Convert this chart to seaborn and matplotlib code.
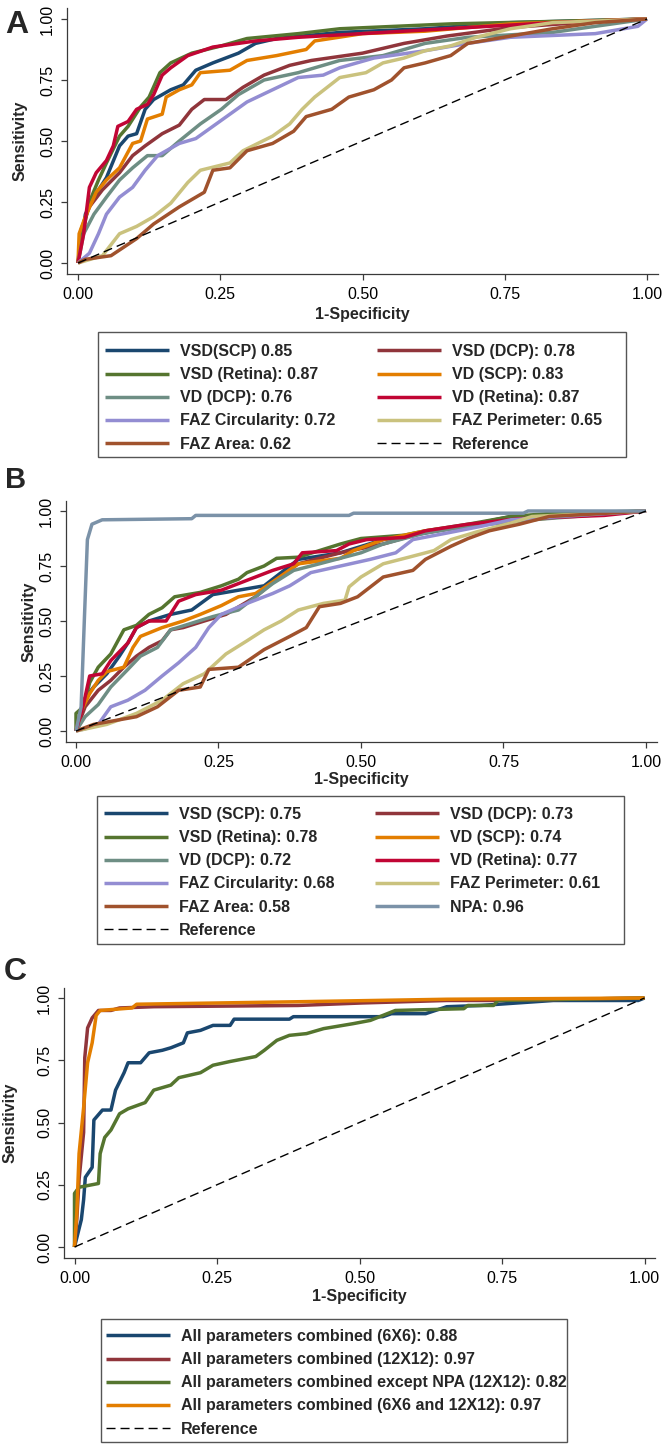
import matplotlib
matplotlib.use("Agg")
import matplotlib.pyplot as plt
import seaborn as sns
from matplotlib.lines import Line2D
from matplotlib.patches import Rectangle

# ---------------- data ----------------
TICKS = [0.0, 0.25, 0.50, 0.75, 1.0]
TICK_LABELS = ["0.00", "0.25", "0.50", "0.75", "1.00"]
REF = [0.0, 1.0]

# Panel A
A_vsd_scp_x = [0, 0.013, 0.028, 0.05, 0.073, 0.088, 0.103, 0.118, 0.133, 0.163, 0.185, 0.207, 0.237, 0.282, 0.312, 0.349, 0.46, 0.61, 0.76, 1.0]
A_vsd_scp_y = [0, 0.20, 0.27, 0.35, 0.48, 0.52, 0.53, 0.63, 0.67, 0.71, 0.73, 0.79, 0.82, 0.86, 0.90, 0.92, 0.945, 0.96, 0.985, 1.0]
A_vsd_dcp_x = [0, 0.006, 0.02, 0.043, 0.073, 0.096, 0.118, 0.148, 0.178, 0.2, 0.222, 0.26, 0.29, 0.327, 0.372, 0.41, 0.5, 0.573, 0.648, 0.76, 0.909, 1.0]
A_vsd_dcp_y = [0, 0.14, 0.23, 0.30, 0.37, 0.44, 0.48, 0.53, 0.565, 0.63, 0.67, 0.67, 0.72, 0.77, 0.81, 0.83, 0.86, 0.90, 0.93, 0.965, 0.99, 1.0]
A_vsd_ret_x = [0, 0.006, 0.02, 0.036, 0.05, 0.073, 0.088, 0.11, 0.125, 0.144, 0.163, 0.2, 0.252, 0.297, 0.387, 0.46, 0.655, 0.834, 1.0]
A_vsd_ret_y = [0, 0.10, 0.25, 0.34, 0.41, 0.52, 0.56, 0.64, 0.68, 0.78, 0.82, 0.86, 0.89, 0.92, 0.94, 0.96, 0.98, 0.99, 1.0]
A_vd_scp_x = [0, 0.002, 0.013, 0.032, 0.05, 0.073, 0.096, 0.11, 0.122, 0.148, 0.155, 0.178, 0.2, 0.215, 0.267, 0.297, 0.349, 0.401, 0.416, 0.5, 0.61, 0.76, 1.0]
A_vd_scp_y = [0, 0.12, 0.19, 0.29, 0.34, 0.39, 0.49, 0.50, 0.59, 0.61, 0.68, 0.71, 0.73, 0.78, 0.79, 0.83, 0.85, 0.875, 0.91, 0.94, 0.95, 0.98, 1.0]
A_vd_dcp_x = [0, 0.01, 0.028, 0.05, 0.073, 0.096, 0.122, 0.148, 0.178, 0.215, 0.252, 0.282, 0.327, 0.387, 0.46, 0.536, 0.61, 0.685, 0.834, 0.909, 1.0]
A_vd_dcp_y = [0, 0.12, 0.20, 0.27, 0.34, 0.39, 0.44, 0.44, 0.50, 0.57, 0.63, 0.69, 0.75, 0.78, 0.83, 0.85, 0.90, 0.925, 0.945, 0.97, 1.0]
A_vd_ret_x = [0, 0.01, 0.02, 0.032, 0.05, 0.062, 0.07, 0.088, 0.103, 0.122, 0.133, 0.148, 0.163, 0.193, 0.237, 0.312, 0.387, 0.536, 0.685, 0.834, 1.0]
A_vd_ret_y = [0, 0.12, 0.31, 0.37, 0.42, 0.48, 0.56, 0.58, 0.63, 0.65, 0.69, 0.77, 0.80, 0.85, 0.885, 0.91, 0.925, 0.945, 0.965, 0.985, 1.0]
A_faz_circ_x = [0, 0.02, 0.036, 0.05, 0.073, 0.096, 0.118, 0.14, 0.178, 0.207, 0.237, 0.267, 0.297, 0.342, 0.387, 0.431, 0.46, 0.52, 0.61, 0.685, 0.76, 0.909, 0.984, 1.0]
A_faz_circ_y = [0, 0.04, 0.12, 0.20, 0.27, 0.31, 0.38, 0.44, 0.49, 0.51, 0.56, 0.61, 0.66, 0.71, 0.76, 0.77, 0.80, 0.84, 0.87, 0.90, 0.925, 0.94, 0.97, 1.0]
A_faz_per_x = [0, 0.043, 0.073, 0.103, 0.133, 0.163, 0.193, 0.215, 0.267, 0.29, 0.342, 0.372, 0.394, 0.416, 0.46, 0.506, 0.536, 0.573, 0.61, 0.655, 0.7, 0.76, 0.834, 1.0]
A_faz_per_y = [0, 0.03, 0.12, 0.15, 0.19, 0.245, 0.33, 0.38, 0.41, 0.46, 0.52, 0.57, 0.63, 0.68, 0.76, 0.78, 0.82, 0.84, 0.87, 0.89, 0.925, 0.96, 0.985, 1.0]
A_faz_area_x = [0, 0.013, 0.058, 0.103, 0.133, 0.178, 0.222, 0.237, 0.267, 0.297, 0.342, 0.379, 0.401, 0.446, 0.476, 0.52, 0.551, 0.573, 0.61, 0.655, 0.685, 0.76, 0.834, 0.909, 1.0]
A_faz_area_y = [0, 0.015, 0.03, 0.10, 0.16, 0.23, 0.29, 0.38, 0.39, 0.46, 0.49, 0.54, 0.60, 0.63, 0.68, 0.71, 0.75, 0.80, 0.82, 0.85, 0.90, 0.93, 0.96, 0.985, 1.0]

# Panel B
B_vsd_scp_x = [0, 0.016, 0.031, 0.054, 0.076, 0.091, 0.106, 0.128, 0.166, 0.203, 0.24, 0.285, 0.33, 0.36, 0.39, 0.464, 0.539, 0.613, 0.688, 0.763, 1.0]
B_vsd_scp_y = [0, 0.15, 0.20, 0.26, 0.34, 0.40, 0.47, 0.50, 0.53, 0.55, 0.62, 0.64, 0.66, 0.72, 0.78, 0.81, 0.87, 0.90, 0.935, 0.975, 1.0]
B_vsd_dcp_x = [0, 0.016, 0.039, 0.061, 0.084, 0.106, 0.128, 0.151, 0.166, 0.188, 0.225, 0.263, 0.315, 0.352, 0.39, 0.464, 0.539, 0.613, 0.688, 0.763, 1.0]
B_vsd_dcp_y = [0, 0.11, 0.185, 0.23, 0.29, 0.34, 0.38, 0.41, 0.46, 0.47, 0.50, 0.53, 0.61, 0.69, 0.76, 0.81, 0.85, 0.905, 0.93, 0.96, 1.0]
B_vsd_ret_x = [0, 0.0, 0.013, 0.024, 0.039, 0.061, 0.084, 0.106, 0.128, 0.151, 0.173, 0.218, 0.255, 0.285, 0.30, 0.33, 0.352, 0.39, 0.464, 0.50, 0.576, 0.613, 0.688, 0.763, 0.837, 1.0]
B_vsd_ret_y = [0, 0.08, 0.11, 0.22, 0.29, 0.35, 0.46, 0.48, 0.53, 0.56, 0.61, 0.63, 0.66, 0.69, 0.72, 0.75, 0.785, 0.79, 0.85, 0.875, 0.89, 0.91, 0.94, 0.975, 0.99, 1.0]
B_vd_scp_x = [0, 0.009, 0.024, 0.039, 0.054, 0.084, 0.10, 0.113, 0.151, 0.188, 0.218, 0.255, 0.285, 0.315, 0.352, 0.39, 0.464, 0.487, 0.539, 0.613, 0.688, 0.80, 0.875, 1.0]
B_vd_scp_y = [0, 0.09, 0.17, 0.23, 0.27, 0.29, 0.38, 0.43, 0.47, 0.50, 0.53, 0.57, 0.61, 0.625, 0.69, 0.76, 0.785, 0.82, 0.87, 0.91, 0.935, 0.96, 0.98, 1.0]
B_vd_dcp_x = [0, 0.016, 0.039, 0.061, 0.091, 0.113, 0.143, 0.166, 0.203, 0.24, 0.285, 0.315, 0.345, 0.382, 0.427, 0.50, 0.539, 0.613, 0.688, 0.80, 1.0]
B_vd_dcp_y = [0, 0.065, 0.12, 0.20, 0.28, 0.34, 0.38, 0.46, 0.49, 0.52, 0.55, 0.61, 0.67, 0.73, 0.76, 0.81, 0.85, 0.90, 0.93, 0.96, 1.0]
B_vd_ret_x = [0, 0.013, 0.024, 0.046, 0.061, 0.091, 0.106, 0.128, 0.158, 0.18, 0.21, 0.255, 0.285, 0.315, 0.345, 0.382, 0.397, 0.457, 0.479, 0.51, 0.576, 0.613, 0.688, 0.778, 0.927, 1.0]
B_vd_ret_y = [0, 0.12, 0.25, 0.26, 0.32, 0.40, 0.47, 0.50, 0.50, 0.59, 0.62, 0.64, 0.67, 0.70, 0.73, 0.76, 0.81, 0.82, 0.85, 0.87, 0.88, 0.91, 0.94, 0.965, 0.98, 1.0]
B_faz_circ_x = [0, 0.016, 0.039, 0.061, 0.091, 0.121, 0.151, 0.18, 0.21, 0.233, 0.255, 0.30, 0.345, 0.375, 0.412, 0.464, 0.516, 0.561, 0.591, 0.651, 0.71, 0.763, 1.0]
B_faz_circ_y = [0, 0.01, 0.03, 0.11, 0.14, 0.185, 0.25, 0.31, 0.38, 0.47, 0.53, 0.58, 0.625, 0.66, 0.72, 0.75, 0.78, 0.81, 0.87, 0.90, 0.93, 0.96, 1.0]
B_faz_per_x = [0, 0.054, 0.106, 0.151, 0.188, 0.225, 0.263, 0.30, 0.33, 0.36, 0.39, 0.434, 0.472, 0.479, 0.50, 0.539, 0.584, 0.628, 0.658, 0.703, 0.763, 0.80, 1.0]
B_faz_per_y = [0, 0.03, 0.08, 0.14, 0.215, 0.26, 0.35, 0.41, 0.46, 0.50, 0.55, 0.58, 0.595, 0.655, 0.70, 0.76, 0.79, 0.82, 0.87, 0.905, 0.945, 0.975, 1.0]
B_faz_area_x = [0, 0.031, 0.106, 0.143, 0.18, 0.218, 0.233, 0.285, 0.33, 0.375, 0.404, 0.427, 0.464, 0.494, 0.524, 0.539, 0.591, 0.613, 0.658, 0.688, 0.725, 0.778, 0.83, 1.0]
B_faz_area_y = [0, 0.03, 0.065, 0.11, 0.185, 0.20, 0.28, 0.29, 0.37, 0.43, 0.47, 0.565, 0.58, 0.61, 0.67, 0.70, 0.73, 0.78, 0.84, 0.875, 0.91, 0.94, 0.975, 1.0]
B_npa_x = [0, 0.009, 0.015, 0.02, 0.028, 0.046, 0.203, 0.21, 0.479, 0.487, 0.785, 0.793, 1.0]
B_npa_y = [0, 0.11, 0.53, 0.87, 0.94, 0.96, 0.965, 0.98, 0.98, 0.99, 0.99, 1.0, 1.0]

# Panel C
C_6x6_x = [0, 0.012, 0.016, 0.019, 0.031, 0.034, 0.049, 0.064, 0.072, 0.087, 0.094, 0.116, 0.131, 0.154, 0.169, 0.191, 0.198, 0.221, 0.243, 0.273, 0.28, 0.377, 0.384, 0.541, 0.556, 0.616, 0.653, 0.713, 0.84, 0.989, 1.0]
C_6x6_y = [0, 0.11, 0.19, 0.28, 0.32, 0.51, 0.55, 0.55, 0.63, 0.70, 0.74, 0.74, 0.78, 0.79, 0.80, 0.82, 0.86, 0.87, 0.89, 0.89, 0.915, 0.915, 0.925, 0.925, 0.937, 0.937, 0.965, 0.97, 0.99, 0.99, 1.0]
C_12x12_x = [0, 0.004, 0.008, 0.016, 0.018, 0.023, 0.031, 0.042, 0.064, 0.079, 0.139, 0.392, 0.504, 0.653, 0.743, 1.0]
C_12x12_y = [0, 0.11, 0.27, 0.46, 0.76, 0.88, 0.92, 0.95, 0.95, 0.96, 0.965, 0.97, 0.98, 0.99, 0.99, 1.0]
C_nonpa_x = [0, 0.0, 0.008, 0.042, 0.045, 0.053, 0.064, 0.079, 0.094, 0.124, 0.139, 0.169, 0.183, 0.221, 0.243, 0.273, 0.318, 0.333, 0.355, 0.377, 0.407, 0.437, 0.489, 0.519, 0.563, 0.683, 0.69, 0.735, 0.743, 1.0]
C_nonpa_y = [0, 0.215, 0.24, 0.255, 0.375, 0.44, 0.47, 0.535, 0.555, 0.58, 0.63, 0.65, 0.68, 0.70, 0.73, 0.745, 0.765, 0.79, 0.83, 0.85, 0.857, 0.877, 0.897, 0.91, 0.95, 0.957, 0.97, 0.97, 0.99, 1.0]
C_both_x = [0, 0.004, 0.008, 0.016, 0.023, 0.031, 0.038, 0.045, 0.101, 0.109, 0.392, 0.653, 1.0]
C_both_y = [0, 0.135, 0.375, 0.56, 0.74, 0.82, 0.93, 0.95, 0.96, 0.975, 0.985, 0.995, 1.0]

A_labels = ["VSD(SCP) 0.85", "VSD (DCP): 0.78", "VSD (Retina): 0.87", "VD (SCP): 0.83",
            "VD (DCP): 0.76", "VD (Retina): 0.87", "FAZ Circularity: 0.72",
            "FAZ Perimeter: 0.65", "FAZ Area: 0.62"]
B_labels = ["VSD (SCP): 0.75", "VSD (DCP): 0.73", "VSD (Retina): 0.78", "VD (SCP): 0.74",
            "VD (DCP): 0.72", "VD (Retina): 0.77", "FAZ Circularity: 0.68",
            "FAZ Perimeter: 0.61", "FAZ Area: 0.58", "NPA: 0.96"]
C_labels = ["All parameters combined (6X6): 0.88", "All parameters combined (12X12): 0.97",
            "All parameters combined except NPA (12X12): 0.82",
            "All parameters combined (6X6 and 12X12): 0.97"]
REF_LABEL = "Reference"

# Stata s2color palette
NAVY, MAROON, FOREST, DKORANGE = "#1a476f", "#90353b", "#55752f", "#e37e00"
TEAL, CRANBERRY, LAVENDER, KHAKI = "#6e8e84", "#c10534", "#938dd2", "#cac27e"
SIENNA, EMIDBLUE = "#a0522d", "#7b92a8"
COLORS10 = [NAVY, MAROON, FOREST, DKORANGE, TEAL, CRANBERRY, LAVENDER, KHAKI, SIENNA, EMIDBLUE]

A_curves = [(A_vsd_scp_x, A_vsd_scp_y), (A_vsd_dcp_x, A_vsd_dcp_y), (A_vsd_ret_x, A_vsd_ret_y),
            (A_vd_scp_x, A_vd_scp_y), (A_vd_dcp_x, A_vd_dcp_y), (A_vd_ret_x, A_vd_ret_y),
            (A_faz_circ_x, A_faz_circ_y), (A_faz_per_x, A_faz_per_y), (A_faz_area_x, A_faz_area_y)]
B_curves = [(B_vsd_scp_x, B_vsd_scp_y), (B_vsd_dcp_x, B_vsd_dcp_y), (B_vsd_ret_x, B_vsd_ret_y),
            (B_vd_scp_x, B_vd_scp_y), (B_vd_dcp_x, B_vd_dcp_y), (B_vd_ret_x, B_vd_ret_y),
            (B_faz_circ_x, B_faz_circ_y), (B_faz_per_x, B_faz_per_y), (B_faz_area_x, B_faz_area_y),
            (B_npa_x, B_npa_y)]
C_curves = [(C_6x6_x, C_6x6_y), (C_12x12_x, C_12x12_y), (C_nonpa_x, C_nonpa_y), (C_both_x, C_both_y)]
C_colors = [NAVY, MAROON, FOREST, DKORANGE]

# ---------------- style ----------------
sns.set_theme(style="white")
plt.rcParams['font.family'] = ['Liberation Sans', 'DejaVu Sans']
AXC = "#3a3a3a"
LW = 2.5
FS = 11.5

W, H = 666, 1445
fig = plt.figure(figsize=(W / 100, H / 100), dpi=100)


def make_axes(x0, x1, y0, y1, left, right, top, bottom):
    sx = x1 - x0
    sy = y0 - y1
    ax = fig.add_axes([left / W, 1 - bottom / H, (right - left) / W, (bottom - top) / H])
    ax.set_xlim((left - x0) / sx, (right - x0) / sx)
    ax.set_ylim((y0 - bottom) / sy, (y0 - top) / sy)
    return ax


def style_axes(ax, left, right, top, bottom, ylabel_x, xlabel_top):
    for s in ["top", "right"]:
        ax.spines[s].set_visible(False)
    for s in ["left", "bottom"]:
        ax.spines[s].set_color(AXC)
        ax.spines[s].set_linewidth(0.9)
    ax.set_xticks(TICKS)
    ax.set_xticklabels(TICK_LABELS)
    ax.set_yticks(TICKS)
    ax.set_yticklabels(TICK_LABELS, rotation=90, va="center")
    ax.tick_params(axis="both", direction="out", length=4.5, width=0.9, color=AXC,
                   labelsize=FS, labelcolor="black", bottom=True, left=True)
    ax.tick_params(axis="x", pad=5.0)
    ax.tick_params(axis="y", pad=4.0)
    ax.set_xlabel("1-Specificity", fontsize=FS, fontweight="bold")
    ax.set_ylabel("Sensitivity", fontsize=FS, fontweight="bold")
    wpx, hpx = right - left, bottom - top
    ax.xaxis.set_label_coords(0.5, -(xlabel_top - bottom) / hpx)
    ax.yaxis.set_label_coords((ylabel_x - left) / wpx, 0.5)
    ax.grid(False)


def draw(ax, curves, colors):
    for (xs, ys), c in zip(curves, colors):
        sns.lineplot(x=xs, y=ys, ax=ax, color=c, linewidth=LW, sort=False,
                     estimator=None, legend=False, solid_capstyle="butt")
    sns.lineplot(x=REF, y=REF, ax=ax, color="black", linewidth=1.0, sort=False,
                 estimator=None, legend=False, dashes=False, linestyle=(0, (6.5, 3.6)))


def legend_col(handles, labels, x, y):
    fig.legend(handles, labels, loc="upper left", bbox_to_anchor=(x / W, 1 - y / H),
               frameon=False, borderpad=0, borderaxespad=0, handlelength=4.0,
               handletextpad=0.69, labelspacing=0.51,
               prop=dict(weight="bold", size=FS))


def frame(l, r, t, b):
    fig.add_artist(Rectangle((l / W, 1 - b / H), (r - l) / W, (b - t) / H,
                             transform=fig.transFigure, fill=False, ec="#555555", lw=1.0))


def handle(c):
    return Line2D([], [], color=c, lw=LW, solid_capstyle="butt")


ref_handle = Line2D([], [], color="black", lw=1.0, linestyle=(0, (6.5, 3.6)))

# ---------------- Panel A ----------------
axA = make_axes(78, 647, 263, 19, 67, 658, 8, 274)
draw(axA, A_curves, COLORS10[:9])
style_axes(axA, 67, 658, 8, 274, ylabel_x=28, xlabel_top=307)
fig.text(5 / W, 1 - 33 / H, "A", fontsize=23, fontweight="bold", ha="left", va="baseline")
hA = [handle(c) for c in COLORS10[:9]] + [ref_handle]
lA = A_labels + [REF_LABEL]
legend_col(hA[0::2], lA[0::2], 105, 344)
legend_col(hA[1::2], lA[1::2], 377, 344)
frame(98, 626, 332, 457)

# ---------------- Panel B ----------------
axB = make_axes(76, 646, 731, 511, 66, 657, 501, 742)
draw(axB, B_curves, COLORS10)
style_axes(axB, 66, 657, 501, 742, ylabel_x=37, xlabel_top=772)
fig.text(5 / W, 1 - 488 / H, "B", fontsize=21, fontweight="bold", ha="left", va="baseline")
hB = [handle(c) for c in COLORS10] + [ref_handle]
lB = B_labels + [REF_LABEL]
legend_col(hB[0::2], lB[0::2], 104, 807)
legend_col(hB[1::2], lB[1::2], 375, 807)
frame(97, 624, 796, 944)

# ---------------- Panel C ----------------
axC = make_axes(74.5, 644.5, 1247, 998, 64, 655, 988, 1258)
draw(axC, C_curves, C_colors)
style_axes(axC, 64, 655, 988, 1258, ylabel_x=18, xlabel_top=1289)
fig.text(4 / W, 1 - 980 / H, "C", fontsize=23, fontweight="bold", ha="left", va="baseline")
hC = [handle(c) for c in C_colors] + [ref_handle]
lC = C_labels + [REF_LABEL]
legend_col(hC, lC, 106, 1329)
frame(101, 567, 1319, 1442)

fig.savefig("out.png", dpi=100, facecolor="white")
